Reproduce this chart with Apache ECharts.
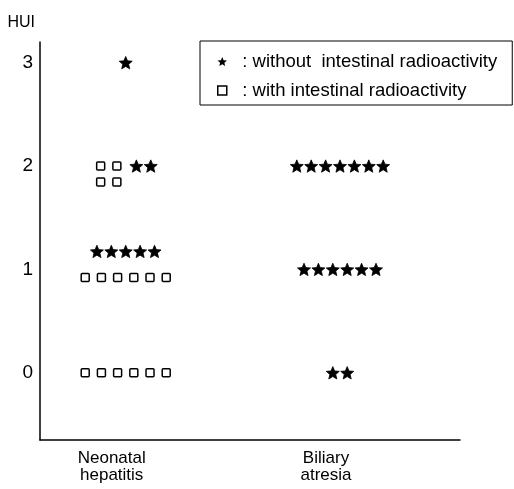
<!DOCTYPE html>
<html><head><meta charset="utf-8">
<script src="https://cdn.jsdelivr.net/npm/echarts@6/dist/echarts.min.js"></script>
<style>html,body{margin:0;padding:0;background:#fff}#c{width:514px;height:489px}</style>
</head><body><div id="c"></div>
<script>
// ---- data ----
const categories = ['Neonatal\nhepatitis', 'Biliary\natresia'];
const huiTicks = [0, 1, 2, 3];
const seriesNames = [': without  intestinal radioactivity', ': with intestinal radioactivity'];
// number of patients at each HUI score (index = HUI 0,1,2,3)
const nhWithout = [0, 5, 2, 1];
const nhWith = [6, 6, 4, 0];
const baWithout = [2, 6, 7, 0];
const baWith = [0, 0, 0, 0];

// ---- marks ----
const STAR = 'path://M100,0 L126.45,63.59 L195.11,69.1 L142.8,113.91 L158.78,180.9 L100,145 L41.22,180.9 L57.2,113.91 L4.89,69.1 L73.55,63.59 Z';
const SQUARE = 'path://M0,0H10V10H0Z';
const FONT = 'Liberation Sans, Arial, sans-serif';

const withoutByCat = [nhWithout, baWithout];
const withByCat = [nhWith, baWith];
const cells = [];
categories.forEach((c, ci) => {
  huiTicks.forEach(h => {
    const ns = withoutByCat[ci][h], nq = withByCat[ci][h];
    if (ns + nq > 0) cells.push([ci + 1, h, ns, nq]);
  });
});
const starData = cells.filter(d => d[2] > 0);
const squareData = cells.filter(d => d[3] > 0);

// dot-plot layout of one cell, in pixels relative to the cell anchor
const STAR_GAP = 14.4, SQ_GAP = 16.2, SIDE_GAP = 19.5;
function cellLayout(nStar, nSq) {
  const stars = [], squares = [];
  const line = (n, gap, dy, out) => {
    for (let i = 0; i < n; i++) out.push([(i - (n - 1) / 2) * gap, dy]);
  };
  if (nSq === 0) line(nStar, STAR_GAP, 0, stars);
  else if (nStar === 0) line(nSq, SQ_GAP, 0, squares);
  else if (nSq <= 4) {
    const cols = Math.min(2, nSq);
    const sqW = (cols - 1) * SQ_GAP, stW = (nStar - 1) * STAR_GAP;
    const start = -(sqW + SIDE_GAP + stW) / 2;
    for (let i = 0; i < nSq; i++) squares.push([start + (i % cols) * SQ_GAP, Math.floor(i / cols) * 16]);
    for (let j = 0; j < nStar; j++) stars.push([start + sqW + SIDE_GAP + j * STAR_GAP, 0]);
  } else {
    line(nStar, STAR_GAP, -18, stars);
    line(nSq, SQ_GAP, 8, squares);
  }
  return { stars, squares };
}

function renderStars(params, api) {
  const p = api.coord([api.value(0), api.value(1)]);
  const lay = cellLayout(api.value(2), api.value(3));
  return { type: 'group', children: lay.stars.map(([dx, dy]) => ({
    type: 'path',
    shape: { pathData: STAR.slice(7), x: p[0] + dx - 6.5, y: p[1] + dy - 6.5, width: 13, height: 13, layout: 'center' },
    style: { fill: '#000', stroke: '#000', lineWidth: 0.8, lineJoin: 'round' }
  })) };
}
function renderSquares(params, api) {
  const p = api.coord([api.value(0), api.value(1)]);
  const lay = cellLayout(api.value(2), api.value(3));
  return { type: 'group', children: lay.squares.map(([dx, dy]) => ({
    type: 'rect',
    shape: { x: p[0] + dx - 4, y: p[1] + dy - 4, width: 8, height: 8, r: 1 },
    style: { fill: '#fff', stroke: '#000', lineWidth: 1.5 }
  })) };
}

const chart = echarts.init(document.getElementById('c'), null, { renderer: 'canvas' });
chart.setOption({
  backgroundColor: '#fff',
  animation: false,
  textStyle: { fontFamily: FONT, color: '#000' },
  grid: { left: 40, right: 54, top: 42, bottom: 49, containLabel: false, outerBoundsMode: 'none' },
  legend: {
    left: 200, top: 41,
    orient: 'vertical',
    selectedMode: false,
    borderColor: '#000', borderWidth: 1,
    padding: [11, 15, 5, 17],
    itemGap: 10,
    itemWidth: 30, itemHeight: 9,
    textStyle: { fontFamily: FONT, fontSize: 18.5, color: '#000' },
    data: [
      { name: seriesNames[0], icon: STAR, itemStyle: { color: '#000', borderWidth: 0 } },
      { name: seriesNames[1], icon: SQUARE, itemStyle: { color: '#fff', borderColor: '#000', borderWidth: 1.5 } }
    ]
  },
  xAxis: {
    type: 'value', min: 0.6, max: 2.56,
    axisLine: { show: true, onZero: false, lineStyle: { color: '#000', width: 1.5 } },
    axisTick: { show: false },
    splitLine: { show: false },
    axisLabel: {
      customValues: [1, 2],
      formatter: v => categories[Math.round(v) - 1],
      fontFamily: FONT, fontSize: 17, lineHeight: 17, color: '#000',
      margin: 10, padding: [0, 28, 0, 0]
    }
  },
  yAxis: {
    type: 'value', min: -0.65, max: 3.2,
    name: 'HUI', nameLocation: 'end', nameGap: 11,
    nameTextStyle: { fontFamily: FONT, fontSize: 16, color: '#000', align: 'right', verticalAlign: 'bottom', padding: [0, 5, 0, 0] },
    axisLine: { show: true, onZero: false, lineStyle: { color: '#000', width: 1.5 } },
    axisTick: { show: false },
    splitLine: { show: false },
    axisLabel: { customValues: huiTicks, fontFamily: FONT, fontSize: 19, color: '#000', margin: 7 }
  },
  series: [
    { name: seriesNames[0], type: 'custom', renderItem: renderStars, data: starData, itemStyle: { color: '#000' }, clip: false },
    { name: seriesNames[1], type: 'custom', renderItem: renderSquares, data: squareData, itemStyle: { color: '#fff', borderColor: '#000' }, clip: false }
  ]
});
</script></body></html>
